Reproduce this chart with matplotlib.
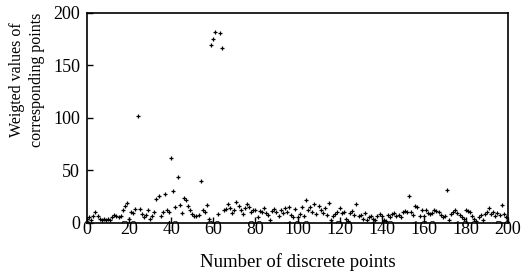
import matplotlib
matplotlib.use("Agg")
import matplotlib.pyplot as plt
import numpy as np

plt.rcParams['font.family'] = ['Liberation Serif', 'DejaVu Serif']

values = [
    4, 5, 3, 6, 10, 6, 4, 3, 4, 3,
    4, 3, 5, 7, 6, 5, 6, 12, 16, 19,
    4, 10, 9, 13, 102, 13, 8, 5, 7, 12,
    4, 6, 10, 23, 25, 6, 10, 27, 12, 10,
    62, 30, 15, 44, 17, 9, 24, 22, 16, 12,
    8, 6, 6, 7, 40, 12, 10, 17, 4, 169,
    175, 182, 8, 181, 166, 12, 13, 18, 14, 9,
    12, 20, 16, 12, 8, 14, 18, 15, 10, 12,
    12, 5, 11, 10, 14, 9, 7, 3, 11, 13,
    10, 6, 12, 9, 14, 10, 15, 7, 5, 13,
    5, 8, 15, 6, 22, 12, 15, 10, 18, 8,
    16, 12, 9, 14, 7, 19, 3, 6, 8, 10,
    14, 9, 10, 4, 2, 9, 11, 7, 18, 6,
    7, 4, 9, 3, 5, 6, 4, 3, 6, 8,
    6, 3, 2, 7, 5, 8, 9, 6, 7, 5,
    10, 11, 10, 25, 10, 7, 16, 15, 6, 12,
    6, 12, 9, 8, 9, 12, 11, 10, 7, 5,
    6, 31, 3, 8, 10, 12, 9, 7, 5, 4,
    12, 11, 10, 6, 4, 2, 5, 7, 3, 8,
    10, 14, 8, 10, 6, 9, 7, 17, 8, 5,
    3,
]
points = np.arange(len(values))

x_ticks = [0, 20, 40, 60, 80, 100, 120, 140, 160, 180, 200]
y_ticks = [0, 50, 100, 150, 200]

fig = plt.figure(figsize=(5.25, 2.78), dpi=100)
ax = fig.add_axes([87/525, 1 - 222.7/278, (508 - 87)/525, (222.7 - 12.7)/278])
ax.scatter(points, values, marker='+', s=8, linewidths=0.9, color='black')
ax.set_xlim(0, 200)
ax.set_ylim(0, 200)
ax.set_xticks(x_ticks)
ax.set_yticks(y_ticks)
ax.tick_params(direction='in', length=4, width=1, colors='black')
ax.tick_params(axis='x', labelsize=13, pad=-1)
ax.tick_params(axis='y', labelsize=13, pad=5)
for s in ax.spines.values():
    s.set_linewidth(1.2)
ax.set_xlabel('Number of discrete points', fontsize=13.5)
ax.xaxis.set_label_coords(0.5, -(253 - 222.7) / 210)
ax.set_ylabel('Weigted values of\ncorresponding points', fontsize=11.5, linespacing=1.3)
ax.yaxis.set_label_coords(-(87 - 45) / 421, (222.7 - 80) / 210)
fig.savefig('out.png', dpi=100)
